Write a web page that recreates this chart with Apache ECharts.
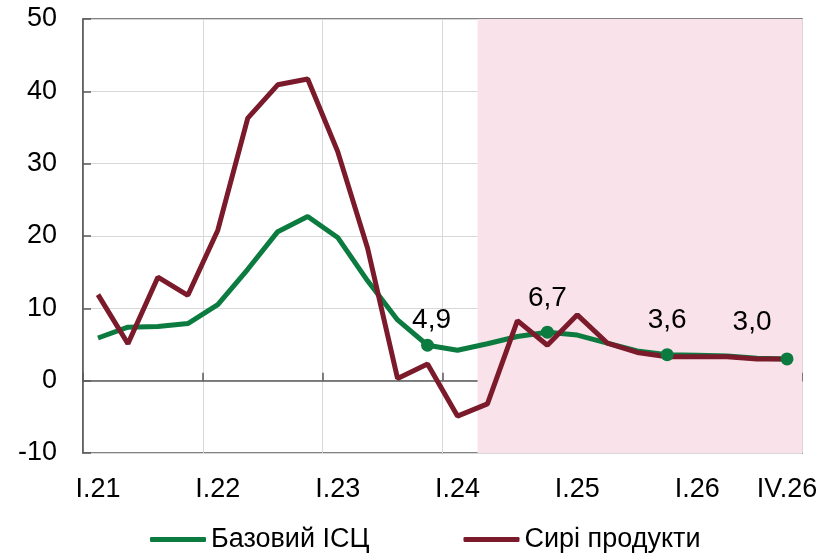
<!DOCTYPE html>
<html>
<head>
<meta charset="utf-8">
<script src="https://cdn.jsdelivr.net/npm/echarts@6/dist/echarts.min.js"></script>
<style>
  html, body { margin: 0; padding: 0; background: #fff; }
  #chart { width: 839px; height: 553px; }
</style>
</head>
<body>
<div id="chart"></div>
<script>
// Quarterly categories
const categories = [
  'I.21', 'II.21', 'III.21', 'IV.21',
  'I.22', 'II.22', 'III.22', 'IV.22',
  'I.23', 'II.23', 'III.23', 'IV.23',
  'I.24', 'II.24', 'III.24', 'IV.24',
  'I.25', 'II.25', 'III.25', 'IV.25',
  'I.26', 'II.26', 'III.26', 'IV.26'
];

// Core CPI, % y/y
const coreCpi = [
  5.9, 7.4, 7.5, 7.9,
  10.5, 15.4, 20.6, 22.7,
  19.8, 13.8, 8.4, 4.9,
  4.2, 5.1, 6.1, 6.7,
  6.3, 5.2, 4.1, 3.6,
  3.5, 3.4, 3.1, 3.0
];

// Raw foods, % y/y
const rawFoods = [
  11.9, 5.1, 14.3, 11.8,
  20.8, 36.3, 40.9, 41.7,
  31.7, 18.3, 0.3, 2.3,
  -4.9, -3.2, 8.3, 4.9,
  9.1, 5.2, 3.9, 3.3,
  3.3, 3.3, 3.0, 3.0
];

// Year-end points of core CPI that carry a value label
const labelledIdx = [11, 15, 19, 23];

// Y axis ticks
const yTicks = [-10, 0, 10, 20, 30, 40, 50];

// Forecast period start, in category units from the left edge
const forecastStart = 13.17;

const seriesNames = ['Базовий ІСЦ', 'Сирі продукти'];

const GREEN = '#0b7b40';
const RED = '#7b1a2b';
const AXIS = '#595959';
const GRID = '#d6d8da';
const FONT = '"Liberation Sans", Arial, sans-serif';
const FS = 27;

// label placement around each labelled marker
const labelOffsets = { 11: [4, -25], 15: [0, -34], 19: [0, -34], 23: [-35, -37] };

const chart = echarts.init(document.getElementById('chart'), null, { renderer: 'canvas' });

const option = {
  animation: false,
  backgroundColor: '#fff',
  textStyle: { fontFamily: FONT },
  grid: {
    left: 83, right: 37, top: 19, bottom: 100,
    show: true, borderColor: AXIS, borderWidth: 1.5, backgroundColor: 'transparent'
  },
  legend: {
    top: 521, left: 145,
    itemWidth: 56, itemHeight: 5, itemGap: 94,
    icon: 'roundRect',
    textStyle: { fontSize: FS, color: '#000', fontFamily: FONT, padding: [0, 0, 0, 0] },
    data: seriesNames
  },
  xAxis: [
    {
      type: 'category', data: categories, position: 'bottom',
      axisLine: { show: false, onZero: false },
      axisTick: { show: false },
      axisLabel: {
        interval: (i) => i % 4 === 0 || i === categories.length - 1,
        fontSize: FS, color: '#000', margin: 23, fontFamily: FONT
      },
      splitLine: { show: true, interval: 3, lineStyle: { color: GRID, width: 1 } }
    },
    {
      type: 'category', data: categories, position: 'bottom',
      axisLine: { show: true, onZero: true, lineStyle: { color: AXIS, width: 1.5 } },
      axisTick: { show: true, inside: true, interval: 3, length: 8, lineStyle: { color: AXIS, width: 1.5 } },
      axisLabel: { show: false },
      splitLine: { show: false }
    },
    {
      type: 'value', min: 0, max: categories.length, show: false
    }
  ],
  yAxis: {
    type: 'value', min: yTicks[0], max: yTicks[yTicks.length - 1], interval: 10,
    axisLine: { show: true, lineStyle: { color: AXIS, width: 1.5 } },
    axisTick: { show: true, inside: true, length: 8, lineStyle: { color: AXIS, width: 1.5 } },
    axisLabel: { fontSize: FS, color: '#000', margin: 26, fontFamily: FONT },
    splitLine: { show: true, lineStyle: { color: GRID, width: 1 } }
  },
  series: [
    {
      name: 'forecast',
      type: 'line', xAxisIndex: 2, data: [], silent: true, z: 0,
      markArea: {
        silent: true,
        itemStyle: { color: 'rgb(250,226,234)' },
        data: [[{ xAxis: forecastStart }, { xAxis: categories.length }]]
      }
    },
    {
      name: seriesNames[0], type: 'line', data: coreCpi, xAxisIndex: 0,
      symbol: 'none', lineStyle: { color: GREEN, width: 5 }, itemStyle: { color: GREEN }, z: 3
    },
    {
      name: seriesNames[1], type: 'line', data: rawFoods, xAxisIndex: 0,
      symbol: 'none', lineStyle: { color: RED, width: 5 }, itemStyle: { color: RED }, z: 4
    },
    {
      name: 'labels', type: 'scatter', xAxisIndex: 0, z: 5, silent: true,
      symbolSize: 13, itemStyle: { color: GREEN, opacity: 1 },
      data: labelledIdx.map(i => ({
        value: [categories[i], coreCpi[i]],
        label: {
          show: true, position: 'inside', offset: labelOffsets[i],
          formatter: coreCpi[i].toFixed(1).replace('.', ','),
          fontSize: 28, color: '#000', opacity: 1, fontFamily: FONT
        }
      }))
    }
  ]
};

chart.setOption(option);
</script>
</body>
</html>
